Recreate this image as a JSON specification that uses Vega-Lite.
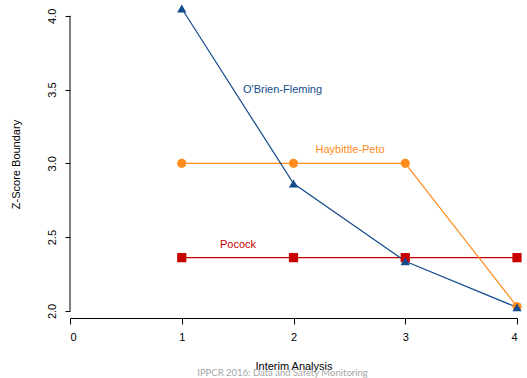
{
"$schema": "https://vega.github.io/schema/vega-lite/v6.json",
"width": 447,
"height": 317,
"autosize": {"type": "none"},
"padding": {"left": 70, "top": 1, "right": 10, "bottom": 60},
"background": "white",
"config": {
  "view": {"stroke": null},
  "font": "Liberation Sans",
  "axis": {"grid": false, "labelFont": "Liberation Sans", "titleFont": "Liberation Sans", "labelFontSize": 11, "titleFontSize": 11, "labelColor": "#000", "titleColor": "#000", "titleFontWeight": "normal", "domainColor": "#000", "tickColor": "#000"}
},
"title": {"text": "IPPCR 2016: Data and Safety Monitoring", "orient": "bottom", "anchor": "middle", "font": "Lato", "fontSize": 9.5, "color": "#A6A6A6", "fontWeight": "normal", "offset": -3, "dx": -11},
"datasets": {
  "series": [
    {"method": "Pocock", "analysis": 1, "z": 2.361},
    {"method": "Pocock", "analysis": 2, "z": 2.361},
    {"method": "Pocock", "analysis": 3, "z": 2.361},
    {"method": "Pocock", "analysis": 4, "z": 2.361},
    {"method": "Haybittle-Peto", "analysis": 1, "z": 3.0},
    {"method": "Haybittle-Peto", "analysis": 2, "z": 3.0},
    {"method": "Haybittle-Peto", "analysis": 3, "z": 3.0},
    {"method": "Haybittle-Peto", "analysis": 4, "z": 2.03},
    {"method": "O'Brien-Fleming", "analysis": 1, "z": 4.049},
    {"method": "O'Brien-Fleming", "analysis": 2, "z": 2.863},
    {"method": "O'Brien-Fleming", "analysis": 3, "z": 2.337},
    {"method": "O'Brien-Fleming", "analysis": 4, "z": 2.024}
  ],
  "labels": [
    {"method": "O'Brien-Fleming", "analysis": 1.902, "z": 3.494},
    {"method": "Haybittle-Peto", "analysis": 2.506, "z": 3.087},
    {"method": "Pocock", "analysis": 1.503, "z": 2.447}
  ],
  "yaxisline": [{"x": 0, "y": 2, "y2": 4}]
},
"layer": [
  {
    "data": {"name": "yaxisline"},
    "mark": {"type": "rule", "color": "#000", "strokeWidth": 1},
    "encoding": {
      "x": {"field": "x", "type": "quantitative", "scale": {"domain": [0, 4], "nice": false, "zero": false},
        "axis": {"values": [0, 1, 2, 3, 4], "format": "d", "title": "Interim Analysis", "tickSize": 6, "labelPadding": 7, "titlePadding": 18, "domainWidth": 1}},
      "y": {"field": "y", "type": "quantitative", "scale": {"domain": [1.952, 4.1], "nice": false, "zero": false},
        "axis": {"values": [2, 2.5, 3, 3.5, 4], "format": ".1f", "title": "Z-Score Boundary", "domain": false, "tickSize": 5, "labelAngle": -90, "labelPadding": 8, "titlePadding": 25, "titleY": 163}},
      "y2": {"field": "y2"}
    }
  },
  {
    "data": {"name": "series"},
    "mark": {"type": "line", "strokeWidth": 1.2},
    "encoding": {
      "x": {"field": "analysis", "type": "quantitative"},
      "y": {"field": "z", "type": "quantitative"},
      "color": {"field": "method", "type": "nominal", "legend": null,
        "scale": {"domain": ["O'Brien-Fleming", "Haybittle-Peto", "Pocock"], "range": ["#134B8C", "#FF8C1A", "#C80000"]}},
      "order": {"field": "analysis"}
    }
  },
  {
    "data": {"name": "series"},
    "mark": {"type": "point", "filled": true, "opacity": 1, "size": 85},
    "encoding": {
      "x": {"field": "analysis", "type": "quantitative"},
      "y": {"field": "z", "type": "quantitative"},
      "color": {"field": "method", "type": "nominal", "legend": null},
      "shape": {"field": "method", "type": "nominal", "legend": null,
        "scale": {"domain": ["O'Brien-Fleming", "Haybittle-Peto", "Pocock"], "range": ["triangle-up", "circle", "square"]}}
    }
  },
  {
    "data": {"name": "labels"},
    "mark": {"type": "text", "fontSize": 11, "align": "center", "baseline": "middle", "font": "Liberation Sans"},
    "encoding": {
      "x": {"field": "analysis", "type": "quantitative"},
      "y": {"field": "z", "type": "quantitative"},
      "text": {"field": "method"},
      "color": {"field": "method", "type": "nominal", "legend": null}
    }
  }
]
}
